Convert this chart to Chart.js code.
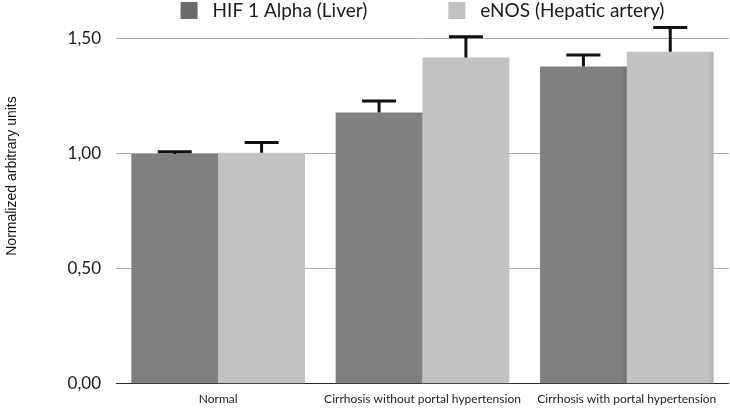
<!DOCTYPE html>
<html>
<head>
<meta charset="utf-8">
<script src="https://cdn.jsdelivr.net/npm/chart.js@4/dist/chart.umd.min.js"></script>
<style>
html,body{margin:0;padding:0;background:#fff;}
#wrap{width:730px;height:409px;}
</style>
</head>
<body>
<div id="wrap"><canvas id="c" width="730" height="409"></canvas></div>
<script>
const categories = ['Normal', 'Cirrhosis without portal hypertension', 'Cirrhosis with portal hypertension'];
const seriesNames = ['HIF 1 Alpha (Liver)', 'eNOS (Hepatic artery)'];
const hifValues = [1.00, 1.18, 1.38];
const hifErrors = [0.01, 0.05, 0.05];
const enosValues = [1.005, 1.42, 1.445];
const enosErrors = [0.045, 0.09, 0.105];
const tickValues = [0, 0.5, 1.0, 1.5];
const tickLabels = ['0,00', '0,50', '1,00', '1,50'];
const yTitle = 'Normalized arbitrary units';
const seriesColors = ['#7f817e', '#c1c3c0'];
const seriesEdge = ['#6f716e', '#b2b4b1'];

// subtle horizontal shading of each bar, computed from the bar element's own geometry
const barShade = {
  id: 'barShade',
  beforeDatasetsDraw(chart) {
    const ctx = chart.ctx;
    chart.data.datasets.forEach((ds, di) => {
      chart.getDatasetMeta(di).data.forEach(el => {
        const l = el.x - el.width / 2, r = el.x + el.width / 2;
        const g = ctx.createLinearGradient(l, 0, r, 0);
        g.addColorStop(0, seriesColors[di]);
        g.addColorStop(0.93, seriesColors[di]);
        g.addColorStop(1, seriesEdge[di]);
        el.options.backgroundColor = g;
      });
    });
  }
};

const errorBars = {
  id: 'errorBars',
  afterDatasetsDraw(chart) {
    const ctx = chart.ctx;
    const y = chart.scales.y;
    chart.data.datasets.forEach((ds, di) => {
      const meta = chart.getDatasetMeta(di);
      meta.data.forEach((el, i) => {
        const top = y.getPixelForValue(ds.data[i] + ds.errors[i]);
        ctx.save();
        ctx.strokeStyle = '#111';
        ctx.lineWidth = 3;
        ctx.beginPath();
        ctx.moveTo(el.x, el.y);
        ctx.lineTo(el.x, top);
        ctx.moveTo(el.x - 17, top);
        ctx.lineTo(el.x + 17, top);
        ctx.stroke();
        ctx.restore();
      });
    });
  }
};

// legend + y-axis title, placed relative to the chart area
const decorations = {
  id: 'decorations',
  afterDraw(chart) {
    const ctx = chart.ctx;
    const area = chart.chartArea;
    ctx.save();
    ctx.font = '19px Lato';
    ctx.textBaseline = 'middle';
    const box = 17, gapText = 15, gapItem = 81;
    const widths = chart.data.datasets.map(d => ctx.measureText(d.label).width);
    let total = 0;
    widths.forEach((w, i) => { total += box + gapText + w + (i < widths.length - 1 ? gapItem : 0); });
    let x = (area.left + area.right) / 2 - total / 2;
    chart.data.datasets.forEach((d, i) => {
      ctx.fillStyle = i === 0 ? '#6a6c69' : seriesColors[i];
      ctx.fillRect(x, 2, box, box);
      ctx.fillStyle = '#1a1a1a';
      ctx.fillText(d.label, x + box + gapText, 11);
      x += box + gapText + widths[i] + gapItem;
    });
    ctx.translate(12, 176);
    ctx.rotate(-Math.PI / 2);
    ctx.textAlign = 'center';
    ctx.font = '14px "Liberation Sans"';
    ctx.fillStyle = '#111';
    ctx.fillText(yTitle, 0, 0);
    ctx.restore();
  }
};

new Chart(document.getElementById('c'), {
  type: 'bar',
  data: {
    labels: categories,
    datasets: [
      { label: seriesNames[0], data: hifValues, errors: hifErrors, backgroundColor: seriesColors[0], borderWidth: 0 },
      { label: seriesNames[1], data: enosValues, errors: enosErrors, backgroundColor: seriesColors[1], borderWidth: 0 }
    ]
  },
  options: {
    responsive: false,
    animation: false,
    devicePixelRatio: 1,
    layout: { padding: { top: 25, right: 1, bottom: 0, left: 0 } },
    datasets: { bar: { categoryPercentage: 0.85, barPercentage: 1.0 } },
    plugins: {
      legend: { display: false },
      tooltip: { enabled: false }
    },
    scales: {
      x: {
        afterFit(scale) { scale.height = 23; },
        grid: { display: false, drawTicks: false },
        border: { display: false },
        ticks: { color: '#222', font: { family: 'Lato', size: 12 }, padding: 8, maxRotation: 0, autoSkip: false }
      },
      y: {
        min: 0, max: 1.56,
        afterFit(scale) { scale.width = 116; },
        afterBuildTicks(axis) { axis.ticks = tickValues.map(v => ({ value: v })); },
        grid: {
          drawTicks: false,
          color: (c) => (c.tick && c.tick.value === 0 ? '#2a2a2a' : '#ababab'),
          lineWidth: 1
        },
        border: { display: false },
        ticks: {
          padding: 15,
          color: '#1a1a1a',
          font: { family: 'Lato', size: 17 },
          callback: (v) => { const i = tickValues.indexOf(v); return i >= 0 ? tickLabels[i] : ''; }
        }
      }
    }
  },
  plugins: [barShade, errorBars, decorations]
});
</script>
</body>
</html>
